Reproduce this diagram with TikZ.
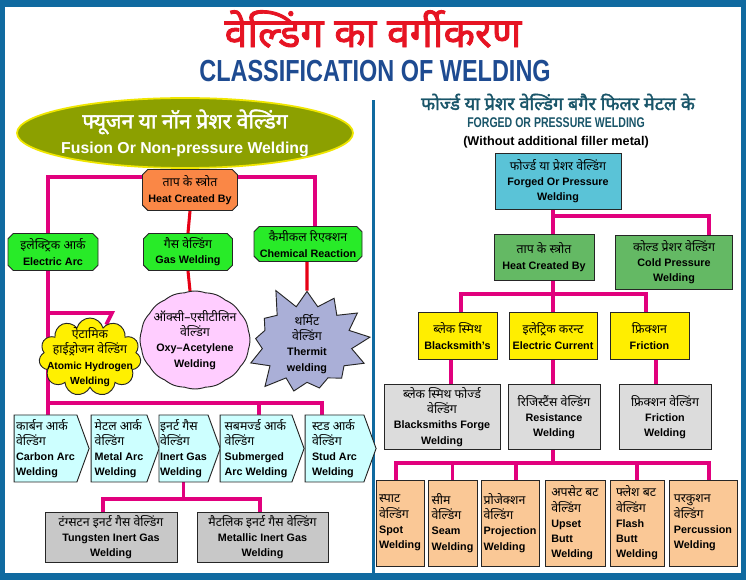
\documentclass[tikz,border=0pt]{standalone}
\usepackage{fontspec}
\setmainfont{Liberation Sans}
\newfontfamily\hin[Script=Devanagari]{Noto Sans}
\newfontfamily\hinb[Script=Devanagari,FakeBold=2]{Noto Sans}
\usetikzlibrary{shapes.geometric,shapes.misc,shapes.symbols,backgrounds}

\definecolor{frameblue}{RGB}{16,106,160}
\definecolor{titlered}{RGB}{230,20,35}
\definecolor{titleblue}{RGB}{30,75,145}
\definecolor{olivegreen}{RGB}{140,160,0}
\definecolor{ellyellow}{RGB}{240,230,0}
\definecolor{heatorange}{RGB}{250,135,70}
\definecolor{limegreen}{RGB}{40,235,40}
\definecolor{fusepink}{RGB}{225,0,125}
\definecolor{gasred}{RGB}{230,0,20}
\definecolor{cloudyellow}{RGB}{255,240,0}
\definecolor{oxypink}{RGB}{255,205,255}
\definecolor{thermitblue}{RGB}{170,175,215}
\definecolor{palecyan}{RGB}{205,255,255}
\definecolor{greyA}{RGB}{200,200,200}
\definecolor{headteal}{RGB}{25,85,105}
\definecolor{forgedblue}{RGB}{90,195,215}
\definecolor{greenB}{RGB}{100,185,100}
\definecolor{yellowB}{RGB}{255,238,0}
\definecolor{greyB}{RGB}{220,220,220}
\definecolor{orangeB}{RGB}{250,200,150}

\newcommand{\hi}[1]{{\hin\mdseries\fontsize{10.5}{13}\selectfont #1}}

\tikzset{
  sz/.code 2 args={\pgfmathsetlengthmacro\nodew{#1*0.3mm}\pgfmathsetlengthmacro\nodeh{#2*0.3mm}%
    \edef\szkeys{\noexpand\pgfkeysalso{minimum width=\nodew, minimum height=\nodeh}}\szkeys},
  fuse/.style={line width=3.2pt, draw=fusepink},
  gasline/.style={line width=2.6pt, draw=gasred},
  box/.style={draw=black!85, line width=0.8pt, align=center, inner sep=1pt,
    font=\bfseries\fontsize{9.2}{13}\selectfont},
  cham/.style={box, chamfered rectangle, chamfered rectangle xsep=0.8mm,
    chamfered rectangle ysep=0.8mm},
  arcbox/.style={box, signal, signal to=east, signal pointer angle=140,
    fill=palecyan, align=left},
  obox/.style={box, fill=orangeB, align=left}
}

\begin{document}
\begin{tikzpicture}
  [x=0.3mm,y=-0.3mm]
  \useasboundingbox (0,0) rectangle (746,580);

  \node[text=titlered, inner sep=0pt, font=\fontsize{35}{38}\selectfont] (title_hi) at (373,29) {\hinb वेल्डिंग का वर्गीकरण};
  \node[text=titleblue, inner sep=0pt, font=\bfseries\fontsize{26}{28}\selectfont] (title_en) at (375,71) {\scalebox{0.77}[1]{CLASSIFICATION OF WELDING}};

  \node[ellipse, fill=olivegreen, draw=ellyellow, line width=1.5pt, sz={336}{70}, inner xsep=-3mm, inner ysep=0pt,
    text=white, align=center, font=\bfseries\fontsize{13.5}{21}\selectfont] (fusion) at (185,133)
    {{\hinb\fontsize{18}{21}\selectfont फ्यूजन या नॉन प्रेशर वेल्डिंग}\\Fusion Or Non-pressure Welding};

  \node[cham, fill=heatorange, sz={95}{41}] (heat) at (190,190) {\hi{ताप के स्त्रोत}\\Heat Created By};
  \node[cham, fill=limegreen, sz={90}{37}] (elarc) at (53,252) {\hi{इलेक्ट्रिक आर्क}\\Electric Arc};
  \node[cham, fill=limegreen, sz={89}{37}] (gasw) at (188,252) {\hi{गैस वेल्डिंग}\\Gas Welding};
  \node[cham, fill=limegreen, sz={108}{35}] (chem) at (308,244) {\hi{कैमीकल रिएक्शन}\\Chemical Reaction};

  \node[box, cloud, cloud puffs=11, cloud ignores aspect, inner sep=-14pt, fill=cloudyellow, sz={102}{78},
    font=\bfseries\fontsize{8.8}{13}\selectfont] (atomic) at (90,357)
    {\hi{ऐटामिक}\\\hi{हाईड्रोजन वेल्डिंग}\\Atomic Hydrogen\\Welding};
  \node[box, cloud, cloud puffs=16, cloud puff arc=40, cloud ignores aspect, inner sep=-14pt, fill=oxypink, sz={110}{98}] (oxy) at (195,340)
    {\hi{ऑक्सी–एसीटीलिन}\\\hi{वेल्डिंग}\\Oxy–Acetylene\\Welding};
  \node[box, starburst, starburst points=13, starburst point height=7mm, random starburst=5, inner sep=-14pt,
    fill=thermitblue, minimum width=41mm, minimum height=37mm] (thermit) at (307,344) {\hi{थर्मिट}\\\hi{वेल्डिंग}\\Thermit\\welding};

  \node[arcbox, sz={75}{67}] (carbon) at (45.5,448.5) {\hi{कार्बन आर्क}\\\hi{वेल्डिंग}\\Carbon Arc\\Welding};
  \node[arcbox, sz={68}{67}] (metal) at (119,448.5) {\hi{मेटल आर्क}\\\hi{वेल्डिंग}\\Metal Arc\\Welding};
  \node[arcbox, sz={59}{67}] (inert) at (183.5,448.5) {\hi{इनर्ट गैस}\\\hi{वेल्डिंग}\\Inert Gas\\Welding};
  \node[arcbox, sz={84}{67}] (subm) at (256,448.5) {\hi{सबमर्ज्ड आर्क}\\\hi{वेल्डिंग}\\Submerged\\Arc Welding};
  \node[arcbox, sz={71}{67}] (stud) at (334.5,448.5) {\hi{स्टड आर्क}\\\hi{वेल्डिंग}\\Stud Arc\\Welding};

  \node[box, fill=greyA, sz={132}{50}] (tig) at (111,537) {\hi{टंग्सटन इनर्ट गैस वेल्डिंग}\\Tungsten Inert Gas\\Welding};
  \node[box, fill=greyA, sz={131}{50}] (mig) at (262.5,537) {\hi{मैटलिक इनर्ट गैस वेल्डिंग}\\Metallic Inert Gas\\Welding};

  \node[text=headteal, inner sep=0pt, font=\fontsize{15.5}{17}\selectfont] (right_hi) at (558,102) {\hinb फोर्ज्ड या प्रेशर वेल्डिंग बगैर फिलर मेटल के};
  \node[text=headteal, inner sep=0pt, font=\bfseries\fontsize{12}{14}\selectfont] (right_en) at (556,123) {\scalebox{0.75}[1]{FORGED OR PRESSURE WELDING}};
  \node[inner sep=0pt, font=\bfseries\fontsize{10.8}{12}\selectfont] (right_note) at (556,142) {(Without additional filler metal)};

  \node[box, fill=forgedblue, sz={126}{56}] (forged) at (558,181) {\hi{फोर्ज्ड या प्रेशर वेल्डिंग}\\Forged Or Pressure\\Welding};
  \node[box, fill=greenB, sz={100}{46}] (rheat) at (544,257) {\hi{ताप के स्त्रोत}\\Heat Created By};
  \node[box, fill=greenB, sz={117}{54}] (cold) at (674,262) {\hi{कोल्ड प्रेशर वेल्डिंग}\\Cold Pressure\\Welding};

  \node[box, fill=yellowB, sz={79}{47}] (bsmith) at (457.5,336) {\hi{ब्लेक स्मिथ}\\Blacksmith's};
  \node[box, fill=yellowB, sz={88}{47}] (ecurr) at (553,336) {\hi{इलेट्रिक करन्ट}\\Electric Current};
  \node[box, fill=yellowB, sz={79}{47}] (fric) at (649.5,336) {\hi{फ्रिक्शन}\\Friction};

  \node[box, fill=greyB, sz={116}{65}] (bforge) at (442,417) {\hi{ब्लेक स्मिथ फोर्ज्ड}\\\hi{वेल्डिंग}\\Blacksmiths Forge\\Welding};
  \node[box, fill=greyB, sz={92}{65}] (resist) at (554,417) {\hi{रिजिस्टैंस वेल्डिंग}\\Resistance\\Welding};
  \node[box, fill=greyB, sz={92}{65}] (fricw) at (665,417) {\hi{फ्रिक्शन वेल्डिंग}\\Friction\\Welding};

  \node[obox, sz={48}{86}] (spot) at (400,523) {\hi{स्पाट}\\\hi{वेल्डिंग}\\Spot\\Welding};
  \node[obox, sz={49}{86}] (seam) at (452.5,523) {\hi{सीम}\\\hi{वेल्डिंग}\\Seam\\Welding};
  \node[obox, sz={58}{86}] (proj) at (510,523) {\hi{प्रोजेक्शन}\\\hi{वेल्डिंग}\\Projection\\Welding};
  \node[obox, sz={60}{86}] (upset) at (575,523) {\hi{अपसेट बट}\\\hi{वेल्डिंग}\\Upset\\Butt\\Welding};
  \node[obox, sz={54}{86}] (flash) at (637,523) {\hi{फ्लेश बट}\\\hi{वेल्डिंग}\\Flash\\Butt\\Welding};
  \node[obox, sz={68}{86}] (percu) at (703,523) {\hi{परकुशन}\\\hi{वेल्डिंग}\\Percussion\\Welding};

  \coordinate (ltop) at (48,177);
  \coordinate (rtop) at (315,177);
  \coordinate (lbus) at (48,403);
  \coordinate (sbus) at (259,403);
  \coordinate (rbus) at (322,403);
  \coordinate (abr) at (112,313);
  \coordinate (tl) at (103,499);
  \coordinate (tr) at (260,499);
  \coordinate (fj) at (553,216);
  \coordinate (fr) at (709,216);
  \coordinate (hj) at (553,294);
  \coordinate (hl) at (461,294);
  \coordinate (hr) at (646,294);
  \coordinate (rj) at (553,463);
  \coordinate (rl) at (396,463);
  \coordinate (rr) at (709,463);

  \begin{scope}[on background layer]
    \fill[frameblue] (0,0) rectangle (746,580);
    \fill[white] (5,7) rectangle (741,573);
    \fill[frameblue] (372,100) rectangle (375,573);

    \draw[fuse] (heat.west |- ltop) -| (elarc.north -| ltop);
    \draw[fuse] (heat.east |- rtop) -| (chem.north -| rtop);
    \draw[gasline] (heat.south) -- (gasw.north);
    \draw[gasline] (gasw.south) -- (oxy);
    \draw[gasline] (chem.south -| thermit) -- (thermit);
    \draw[fuse] (elarc.south -| lbus) -- (carbon.north -| lbus);
    \draw[fuse] (abr -| lbus) -- (abr) -- (atomic);
    \draw[fuse] (lbus) -- (rbus) -- (stud.north -| rbus);
    \draw[fuse] (sbus) -- (subm.north -| sbus);
    \draw[fuse] (inert.south) -- (inert.south |- tl);
    \draw[fuse] (tig.north -| tl) -- (tl) -- (tr) -- (mig.north -| tr);

    \draw[fuse] (forged.south -| fj) -- (rheat.north -| fj);
    \draw[fuse] (fj) -- (fr) -- (cold.north -| fr);
    \draw[fuse] (rheat.south -| hj) -- (ecurr.north -| hj);
    \draw[fuse] (bsmith.north -| hl) -- (hl) -- (hr) -- (fric.north -| hr);
    \draw[fuse] ([xshift=-2mm]bsmith.south) -- ([xshift=-2mm]bsmith.south |- bforge.north);
    \draw[fuse] (ecurr.south) -- (ecurr.south |- resist.north);
    \draw[fuse] ([xshift=2mm]fric.south) -- ([xshift=2mm]fric.south |- fricw.north);
    \draw[fuse] (resist.south -| rj) -- (rj);
    \draw[fuse] (spot.north -| rl) -- (rl) -- (rr) -- (percu.north -| rr);
    \draw[fuse] (seam.north) -- (seam.north |- rl);
    \draw[fuse] ([xshift=1.8mm]proj.north) -- ([xshift=1.8mm]proj.north |- rl);
    \draw[fuse] (flash.north) -- (flash.north |- rl);
  \end{scope}
\end{tikzpicture}
\end{document}
